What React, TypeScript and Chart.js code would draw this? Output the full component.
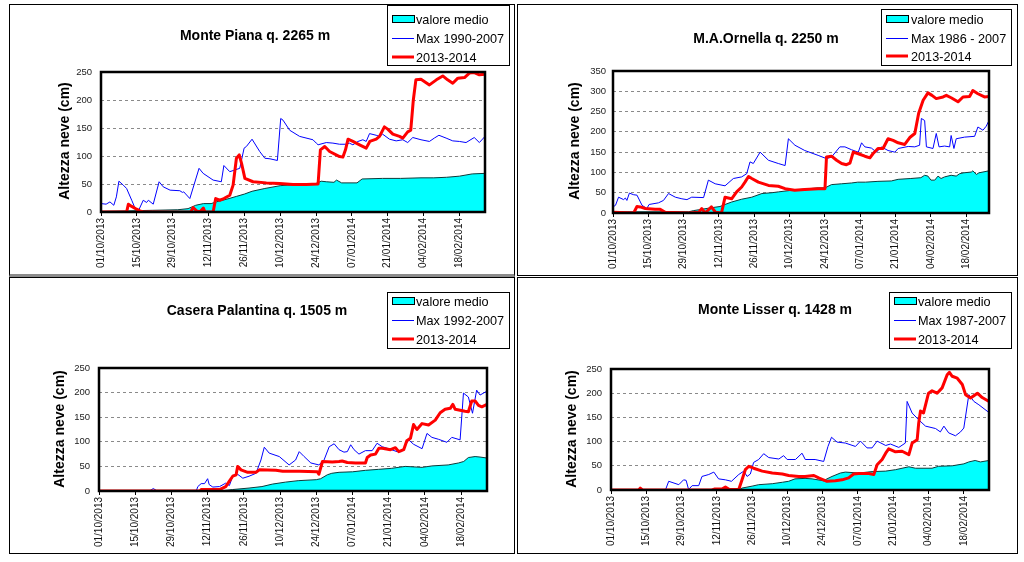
import React, { useEffect, useRef } from 'react';
import { Chart, registerables } from 'chart.js';
Chart.register(...registerables);

type Pt = [number, number];

// ---- shared axis / legend texts ----
const TICK_DAYS = [0, 14, 28, 42, 56, 70, 84, 98, 112, 126, 140];
const TICK_LABELS = ['01/10/2013', '15/10/2013', '29/10/2013', '12/11/2013', '26/11/2013', '10/12/2013', '24/12/2013', '07/01/2014', '21/01/2014', '04/02/2014', '18/02/2014'];
const Y_TITLE = 'Altezza neve (cm)';
const LEGEND_MEDIO = 'valore medio';
const LEGEND_SEASON = '2013-2014';

// ---- Monte Piana ----
const PIANA_TITLE = 'Monte Piana q. 2265 m';
const PIANA_MAX_LABEL = 'Max 1990-2007';
const PIANA_MEDIO: Pt[] = [[0,1],[10,2],[20,3],[30,4],[34,6],[37,12],[40,15],[43,15],[45,18],[50,24],[53,28],[56,32],[59,37],[64,42],[70,47],[73,48],[78,49],[84,51],[86,55],[88,54],[91,53],[92,57],[94,52],[100,52],[102,59],[110,60],[117,60],[125,61],[130,61],[135,62],[140,64],[145,68],[150,69]];
const PIANA_MAX: Pt[] = [[0,15],[2,14],[3.5,18],[5,12],[6,27],[7,55],[8.7,48],[10,42],[12,21],[13,10],[14.6,2],[16.5,21],[17.8,17],[18.5,21],[20.4,14],[22.7,54],[24.3,45],[27,39],[30.8,38],[31.8,35],[32.3,36],[34.7,24],[38.3,78],[39.9,69],[43.8,57],[47,54],[48,83],[50.3,72],[51.6,74],[54.2,78],[55.9,114],[56.8,117],[59,130],[62,108],[64,96],[66,95],[68.9,92],[70.2,167],[71.1,164],[73.7,146],[77.6,135],[82.8,129],[84.1,123],[84.8,120],[88,124],[90.6,123],[93.2,121],[95.8,121],[97,123],[98.4,120],[100.4,126],[102.3,129],[103.6,126],[104.9,140],[107.5,137],[108.8,135],[110,139],[112.7,130],[115.3,127],[117.9,129],[119.8,124],[121.8,133],[125,129],[128.3,126],[130.2,132],[132,137],[134.8,132],[137.4,127],[140,126],[142.6,124],[145.8,133],[147.8,124],[150,135]];
const PIANA_SEASON: Pt[] = [[0,0],[10,0],[10.7,14],[12,10],[13.9,5],[15.2,2],[16.5,0],[35,0],[36,8],[37.3,2],[38.6,0],[40,7],[40.6,0],[43.8,0],[44.8,24],[46.4,21],[48,24],[50.3,30],[51.6,48],[52.9,96],[54,102],[54.9,87],[56.2,60],[59.4,54],[64.6,52],[69.8,51],[75,49],[80.2,49],[84.8,50],[85.7,111],[87.4,117],[89.3,108],[93.2,99],[94.5,98],[95.5,111],[96.5,130],[98.4,126],[101,120],[103.6,114],[105,126],[107.5,130],[108.8,135],[110.7,152],[112,148],[114,139],[116.6,135],[117.9,132],[119.8,143],[121,146],[122,200],[123,236],[125,237],[128.3,227],[131,236],[133.5,243],[135.4,236],[137.4,230],[139.4,239],[142,240],[143.9,248],[145.8,249],[147.8,245],[150,246]];

// ---- M.A.Ornella ----
const ORNELLA_TITLE = 'M.A.Ornella q. 2250 m';
const ORNELLA_MAX_LABEL = 'Max 1986 - 2007';
const ORNELLA_MEDIO: Pt[] = [[0,3],[30,3],[32,6],[34,8],[39,13],[42.4,16],[44.4,21],[47,27],[51,34],[55,39],[59,48],[63,50],[65.5,52],[70.8,56],[76,59],[81.3,62],[84,62],[86.6,70],[90.6,72],[94.5,74],[97,76],[100,76],[105,78],[110.3,79],[113,83],[118,85],[122,87],[123.5,93],[124.8,91],[126,81],[127.5,81],[128.8,91],[130,85],[131.4,89],[134,93],[136,91],[137.4,97],[139,99],[142,101],[142.6,104],[144,95],[145,99],[149,104]];
const ORNELLA_MAX: Pt[] = [[0,15],[1,19],[2.2,39],[4.2,33],[4.9,37],[5.5,31],[6.5,49],[8.2,45],[9.5,44],[11.5,19],[13.4,11],[14.3,21],[18,25],[20,31],[22,48],[24.7,39],[27.3,35],[29.3,33],[31.2,39],[35.9,38],[37.8,81],[40.5,72],[44.4,67],[47.7,85],[51,89],[53,97],[54.3,126],[55.6,122],[58.3,150],[61.6,130],[65.5,122],[68.2,117],[69.5,183],[72.1,167],[76,154],[81.3,142],[84.6,134],[86.6,138],[89.9,163],[91.9,163],[94.5,156],[97.2,150],[98.5,173],[99.8,163],[102.4,160],[104.4,150],[106.4,163],[109,154],[111.7,150],[113,159],[117,164],[119.6,163],[121.5,167],[122.2,233],[123.5,228],[124.2,163],[126.8,159],[128.1,196],[129.2,163],[131.4,165],[133.4,163],[134,191],[135.1,159],[136,183],[139.3,187],[143.3,189],[144.6,212],[146.6,204],[147.9,214],[149,228]];
const ORNELLA_SEASON: Pt[] = [[0,2],[8.2,0],[9.5,16],[10.8,15],[12.8,11],[16.7,9],[18.7,9],[20.7,2],[29.9,0],[34,2],[35.2,11],[36.5,0],[39,15],[40.6,2],[43,0],[44.4,39],[47,35],[49,52],[51,64],[52.3,76],[53.7,90],[55,85],[57.6,76],[61.6,68],[65.5,66],[68.2,60],[72,56],[76,58],[81.3,60],[84,60],[84.6,138],[86.6,140],[88.6,130],[90.6,122],[92.5,119],[93.9,123],[95.2,150],[97.2,146],[99.8,140],[101.8,136],[103,146],[105,159],[107,159],[109,183],[111,179],[113,173],[115.6,169],[117.6,186],[119.6,196],[121.1,245],[122.9,278],[124.8,296],[126.4,290],[128.1,282],[130.8,286],[132.1,290],[134,284],[136.7,274],[138.7,286],[141.3,287],[142.6,302],[144.6,294],[147.2,286],[149,287]];

// ---- Casera Palantina ----
const PALANTINA_TITLE = 'Casera Palantina q. 1505 m';
const PALANTINA_MAX_LABEL = 'Max 1992-2007';
const PALANTINA_MEDIO: Pt[] = [[0,0],[46.6,0],[51.7,3],[58,6],[63,9],[67,14],[72,18],[77,21],[84,23],[85.7,25],[88.3,33],[90,36],[92.8,38],[98,39],[103,42],[108,44],[113,46],[118.4,50],[124.9,48],[128.7,51],[135,53],[139,57],[141,60],[142.8,68],[145.4,70],[147.3,69],[150,67]];
const PALANTINA_MAX: Pt[] = [[0,0],[19.5,0],[21,5],[22.5,0],[37.6,0],[38.2,9],[39.5,15],[40.8,15],[42,25],[42.6,13],[44,8],[46.6,9],[49,16],[50.4,11],[51.7,30],[53.6,34],[55.6,26],[58,30],[60.7,36],[62.6,63],[63.9,89],[65.8,77],[69.7,70],[73.5,53],[76,63],[77.4,80],[79.3,70],[81.9,57],[85,53],[87,63],[89,90],[90.9,96],[92.8,84],[94.7,79],[96,80],[97.3,94],[98.6,84],[100.5,75],[103,82],[105.6,82],[107.5,97],[109.5,90],[112,86],[115.2,80],[117,80],[119.7,104],[121.6,95],[124.9,86],[126.8,117],[128.7,109],[131.3,105],[134.5,99],[136.4,109],[139.6,104],[140.9,199],[142.8,191],[144.4,158],[146,205],[147.3,195],[150,203]];
const PALANTINA_SEASON: Pt[] = [[0,0],[39,0],[39.5,3],[46.6,3],[49,9],[50.4,20],[51.7,30],[53,33],[53.6,50],[54.9,43],[57.5,38],[60.7,38],[62,43],[68.4,42],[71,40],[77.4,40],[84.4,39],[85,34],[86.4,60],[90.2,59],[92.8,60],[94,61],[96,58],[99.2,57],[103,57],[103.7,68],[105,73],[106.9,75],[108.2,87],[109.5,87],[112.7,84],[114.6,88],[115.9,80],[117.8,84],[119,102],[120.4,107],[121.6,135],[122.9,125],[124.9,137],[127.4,134],[130,144],[131.9,159],[133.8,166],[135.8,168],[136.8,176],[137.7,166],[139.6,164],[141.5,162],[142.8,161],[144.1,183],[145.4,183],[146.7,174],[148,171],[150,176]];

// ---- Monte Lisser ----
const LISSER_TITLE = 'Monte Lisser q. 1428 m';
const LISSER_MAX_LABEL = 'Max 1987-2007';
const LISSER_MEDIO: Pt[] = [[0,0],[50.7,0],[52,4],[56,8],[58.6,11],[64,13],[68,16],[70.5,18],[73,23],[77,24],[79.8,23],[84.4,19],[85.7,23],[87.7,28],[91,35],[93,37],[98.3,35],[103.6,38],[109,39],[112.9,42],[118.2,48],[120.8,45],[127.4,45],[130,49],[135.4,50],[140,54],[142,58],[144.5,61],[146.6,58],[150,61]];
const LISSER_MAX: Pt[] = [[0,0],[21.6,0],[22.9,18],[26.9,11],[28.8,21],[29.8,20],[30.8,1],[32.2,9],[34.8,9],[36.1,28],[38.8,32],[40.8,37],[42.7,23],[45.4,21],[47.8,18],[50.7,32],[52.7,39],[54,28],[55.3,33],[56.6,57],[58.6,63],[60.6,75],[62.6,67],[66.6,64],[68.5,71],[69.9,63],[73.2,63],[75.8,76],[77.1,63],[81,63],[84.4,59],[86.1,90],[87.5,109],[89.7,99],[93,97],[97,90],[99,101],[101.6,87],[103.6,87],[105.6,101],[109,92],[110.9,95],[114.2,88],[116.8,97],[117.5,183],[119.5,159],[122.1,145],[124.8,132],[128.8,127],[130.7,120],[132.1,132],[134,118],[136.7,112],[138.7,120],[140,128],[142,197],[144,183],[146,176],[150,160]];
const LISSER_SEASON: Pt[] = [[0,0],[11,0],[11.6,4],[12.5,0],[40,0],[41,2],[44,2],[45.4,6],[47,1],[50.7,1],[52,21],[53.3,42],[54.7,49],[56.6,45],[60,39],[64,35],[68,33],[70.5,30],[74.5,28],[77,28],[80.5,30],[82.4,25],[85.7,18],[89,19],[91.7,21],[94.3,25],[96.3,33],[98.3,34],[102.3,34],[104.3,32],[105.6,52],[107.6,63],[109,76],[110.2,85],[112.9,79],[115.5,80],[118.2,73],[119.5,97],[121.5,104],[122.1,138],[122.8,163],[124,159],[126,200],[127.4,205],[129.4,200],[131.4,211],[133.4,238],[134.3,243],[135.4,235],[137.4,231],[139.4,218],[140.7,197],[142.7,190],[145.4,200],[147.3,191],[150,183]];

// ---- layout (page coordinates) ----
const FONT = "'Liberation Sans', Arial, sans-serif";

interface PanelCfg {
  title: string; maxLabel: string; medio: Pt[]; max: Pt[]; season: Pt[];
  yMax: number; xMax: number;
  box: { L: number; T: number; W: number; H: number };
  bottomBorder: string;
  plot: { l: number; r: number; t: number; b: number };
  yPad: number;
  titlePos: { x: number; y: number };
  yTitlePos: { x: number; y: number };
  legend: { x: number; y: number; w: number; h: number; sw: number; tx: number; rows: number[] };
}

const PANELS: PanelCfg[] = [
  {
    title: PIANA_TITLE, maxLabel: PIANA_MAX_LABEL, medio: PIANA_MEDIO, max: PIANA_MAX, season: PIANA_SEASON,
    yMax: 250, xMax: 150,
    box: { L: 9, T: 4, W: 506, H: 273 }, bottomBorder: '3px solid #8c8c8c',
    plot: { l: 101, r: 485, t: 72, b: 212 }, yPad: 9,
    titlePos: { x: 255, y: 36 }, yTitlePos: { x: 65, y: 141 },
    legend: { x: 387, y: 5, w: 122, h: 60, sw: 392, tx: 416, rows: [19, 38, 57] },
  },
  {
    title: ORNELLA_TITLE, maxLabel: ORNELLA_MAX_LABEL, medio: ORNELLA_MEDIO, max: ORNELLA_MAX, season: ORNELLA_SEASON,
    yMax: 350, xMax: 149,
    box: { L: 517, T: 4, W: 501, H: 272 }, bottomBorder: '1px solid #000',
    plot: { l: 613, r: 989, t: 71, b: 213 }, yPad: 7,
    titlePos: { x: 766, y: 39 }, yTitlePos: { x: 575, y: 141 },
    legend: { x: 881, y: 9, w: 130, h: 56, sw: 886, tx: 911, rows: [19, 38, 56] },
  },
  {
    title: PALANTINA_TITLE, maxLabel: PALANTINA_MAX_LABEL, medio: PALANTINA_MEDIO, max: PALANTINA_MAX, season: PALANTINA_SEASON,
    yMax: 250, xMax: 150,
    box: { L: 9, T: 277, W: 506, H: 277 }, bottomBorder: '1px solid #000',
    plot: { l: 99, r: 487, t: 368, b: 491 }, yPad: 9,
    titlePos: { x: 257, y: 311 }, yTitlePos: { x: 60, y: 429 },
    legend: { x: 387, y: 292, w: 122, h: 56, sw: 392, tx: 416, rows: [301, 320, 339] },
  },
  {
    title: LISSER_TITLE, maxLabel: LISSER_MAX_LABEL, medio: LISSER_MEDIO, max: LISSER_MAX, season: LISSER_SEASON,
    yMax: 250, xMax: 150,
    box: { L: 517, T: 277, W: 501, H: 277 }, bottomBorder: '1px solid #000',
    plot: { l: 611, r: 989, t: 369, b: 490 }, yPad: 9,
    titlePos: { x: 775, y: 310 }, yTitlePos: { x: 572, y: 429 },
    legend: { x: 889, y: 292, w: 122, h: 56, sw: 894, tx: 918, rows: [301, 320, 339] },
  },
];

const toXY = (a: Pt[]) => a.map(([x, y]) => ({ x, y }));

function Panel({ cfg }: { cfg: PanelCfg }) {
  const ref = useRef<HTMLCanvasElement>(null);
  const cw = cfg.box.W - 2;
  const ch = 270 + (cfg.box.T > 100 ? 5 : 0);
  const ox = cfg.box.L + 1;
  const oy = cfg.box.T + 1;

  useEffect(() => {
    const canvas = ref.current;
    if (!canvas) return;
    const yWidth = cfg.plot.l - ox;
    const xHeight = ch - (cfg.plot.b - oy);
    const rightPad = cw - (cfg.plot.r - ox);
    const topPad = cfg.plot.t - oy;

    const overlay = {
      id: 'overlay',
      afterDatasetsDraw(chart: any) {
        const { ctx, chartArea: a } = chart;
        ctx.save();
        ctx.strokeStyle = '#000';
        ctx.lineWidth = 2.5;
        ctx.strokeRect(a.left, a.top, a.right - a.left, a.bottom - a.top);
        ctx.restore();
      },
      afterDraw(chart: any) {
        const ctx = chart.ctx as CanvasRenderingContext2D;
        ctx.save();
        ctx.fillStyle = '#000';
        ctx.font = `bold 14px ${FONT}`;
        ctx.textAlign = 'center';
        ctx.textBaseline = 'middle';
        ctx.fillText(cfg.title, cfg.titlePos.x - ox, cfg.titlePos.y - oy);
        ctx.save();
        ctx.translate(cfg.yTitlePos.x - ox, cfg.yTitlePos.y - oy);
        ctx.rotate(-Math.PI / 2);
        ctx.fillText(Y_TITLE, 0, 0);
        ctx.restore();
        const lg = cfg.legend;
        ctx.fillStyle = '#fff';
        ctx.fillRect(lg.x - ox, lg.y - oy, lg.w, lg.h);
        ctx.strokeStyle = '#000';
        ctx.lineWidth = 1;
        ctx.strokeRect(lg.x - ox + 0.5, lg.y - oy + 0.5, lg.w, lg.h);
        const sx = lg.sw - ox;
        const swW = 22;
        ctx.fillStyle = '#00FFFF';
        ctx.fillRect(sx, lg.rows[0] - oy - 4, swW, 7);
        ctx.strokeStyle = '#000';
        ctx.strokeRect(sx + 0.5, lg.rows[0] - oy - 3.5, swW, 7);
        ctx.strokeStyle = '#0000FF';
        ctx.lineWidth = 1;
        ctx.beginPath();
        ctx.moveTo(sx, lg.rows[1] - oy + 0.5);
        ctx.lineTo(sx + swW, lg.rows[1] - oy + 0.5);
        ctx.stroke();
        ctx.strokeStyle = '#FF0000';
        ctx.lineWidth = 3;
        ctx.beginPath();
        ctx.moveTo(sx, lg.rows[2] - oy);
        ctx.lineTo(sx + swW, lg.rows[2] - oy);
        ctx.stroke();
        ctx.fillStyle = '#000';
        ctx.font = `12.7px ${FONT}`;
        ctx.textAlign = 'left';
        ctx.textBaseline = 'middle';
        const texts = [LEGEND_MEDIO, cfg.maxLabel, LEGEND_SEASON];
        texts.forEach((t, i) => ctx.fillText(t, lg.tx - ox, lg.rows[i] - oy + 1));
        ctx.restore();
      },
    };

    const chart = new Chart(canvas, {
      type: 'line',
      data: {
        datasets: [
          {
            label: LEGEND_SEASON, data: toXY(cfg.season), borderColor: '#FF0000', borderWidth: 3,
            pointRadius: 0, fill: false, tension: 0, borderJoinStyle: 'round',
          },
          {
            label: cfg.maxLabel, data: toXY(cfg.max), borderColor: '#0000FF', borderWidth: 1,
            pointRadius: 0, fill: false, tension: 0,
          },
          {
            label: LEGEND_MEDIO, data: toXY(cfg.medio), borderColor: '#0d3a3a', borderWidth: 1,
            backgroundColor: '#00FFFF', pointRadius: 0, fill: 'origin', tension: 0,
          },
        ] as any,
      },
      options: {
        responsive: false,
        animation: false,
        events: [],
        layout: { padding: { left: 0, top: topPad, right: rightPad, bottom: 0 } },
        plugins: { legend: { display: false }, title: { display: false }, tooltip: { enabled: false } },
        scales: {
          x: {
            type: 'linear', min: 0, max: cfg.xMax,
            afterBuildTicks: (s: any) => { s.ticks = TICK_DAYS.map((v) => ({ value: v })); },
            afterFit: (s: any) => { s.height = xHeight; },
            ticks: {
              autoSkip: false, maxRotation: 90, minRotation: 90, padding: 2,
              color: '#111', font: { family: FONT, size: 10 },
              callback: (v: any) => {
                const i = TICK_DAYS.indexOf(Number(v));
                return i >= 0 ? TICK_LABELS[i] : '';
              },
            },
            grid: { display: true, drawOnChartArea: false, drawTicks: true, tickLength: 4, color: '#000' },
            border: { display: false },
          },
          y: {
            type: 'linear', min: 0, max: cfg.yMax,
            afterFit: (s: any) => { s.width = yWidth; },
            ticks: { stepSize: 50, padding: cfg.yPad, color: '#222', font: { family: FONT, size: 9.5 } },
            grid: { drawTicks: false, color: '#8a8a8a', lineWidth: 1 },
            border: { display: false, dash: [3, 3] },
          },
        },
      } as any,
      plugins: [overlay as any],
    });
    return () => chart.destroy();
  }, [cfg]);

  return (
    <div style={{ position: 'absolute', left: cfg.box.L, top: cfg.box.T, width: cfg.box.W, height: cfg.box.H, border: '1px solid #000', borderBottom: cfg.bottomBorder, boxSizing: 'border-box', background: '#fff', overflow: 'hidden' }}>
      <canvas ref={ref} width={cw} height={ch} style={{ position: 'absolute', left: 0, top: 0, width: cw, height: ch }} />
    </div>
  );
}

export default function App() {
  return (
    <div style={{ position: 'absolute', left: 0, top: 0, width: 1024, height: 562, background: '#fff', overflow: 'hidden' }}>
      {PANELS.map((p, i) => <Panel key={i} cfg={p} />)}
    </div>
  );
}
